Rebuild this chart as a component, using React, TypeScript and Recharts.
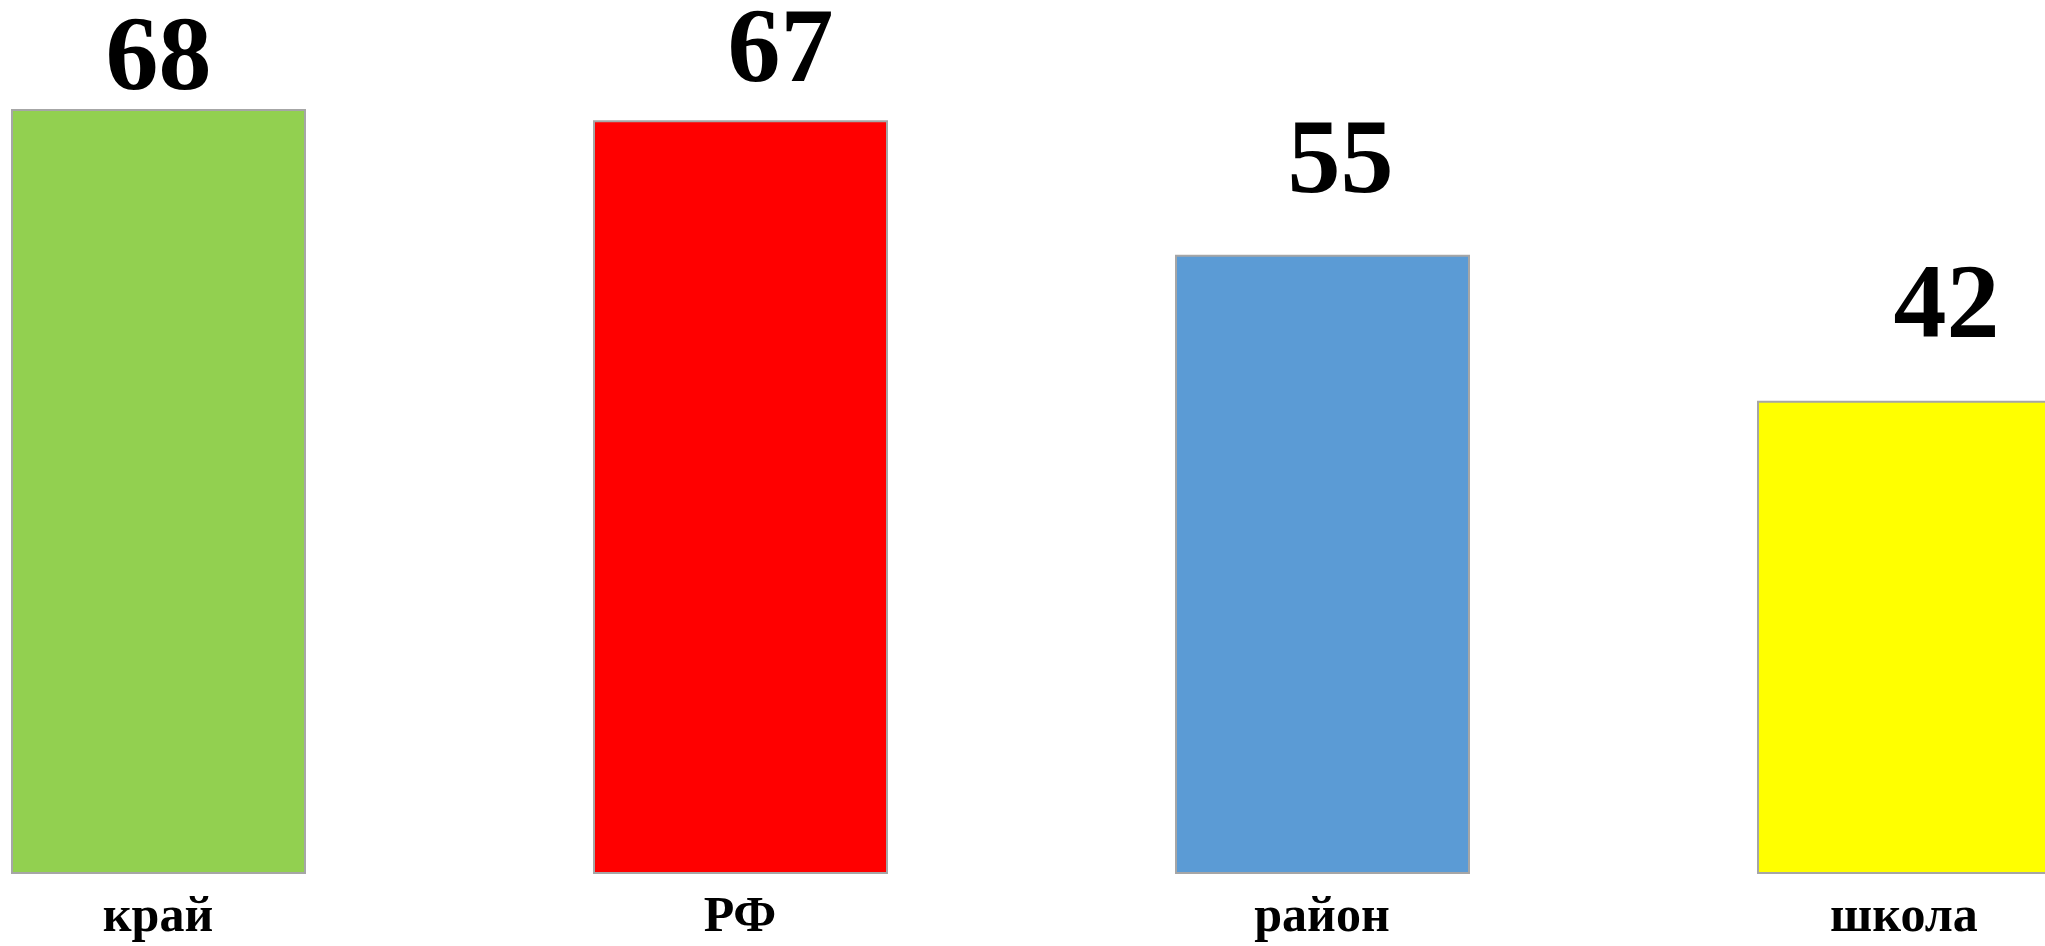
import React from 'react';
import { BarChart, Bar, XAxis, YAxis, Cell, LabelList } from 'recharts';

const categories = ['край', 'РФ', 'район', 'школа'];
const values = [68, 67, 55, 42];
const barColors = ['#92D050', '#FF0000', '#5B9BD5', '#FFFF00'];

// value labels sit a little unevenly above the bars in the original
const labelShiftX = [0, 40, 18, 42];
const labelGap = [21, 40, 64, 65];

const data = categories.map((name, i) => ({ name, value: values[i] }));

const serif = '"Liberation Serif", "Times New Roman", serif';

const ValueLabel = (props: any) => {
  const { x, y, width, value, index } = props;
  return (
    <text
      x={x + width / 2 + labelShiftX[index]}
      y={y - labelGap[index]}
      textAnchor="middle"
      fontFamily={serif}
      fontWeight="bold"
      fontSize={106}
      fill="#000"
    >
      {value}
    </text>
  );
};

export default function App() {
  return (
    <div
      style={{
        position: 'fixed',
        left: 0,
        top: 0,
        width: 2045,
        height: 946,
        overflow: 'hidden',
        background: '#ffffff',
      }}
    >
      <div style={{ position: 'absolute', left: -133, top: 0 }}>
        <BarChart
          width={2328}
          height={946}
          data={data}
          margin={{ top: 110, right: 0, bottom: 0, left: 0 }}
        >
          <XAxis
            dataKey="name"
            height={73}
            axisLine={false}
            tickLine={false}
            tickMargin={16}
            interval={0}
            tick={{ fill: '#000', fontSize: 50, fontWeight: 'bold', fontFamily: serif }}
          />
          <YAxis hide domain={[0, 68]} />
          <Bar
            dataKey="value"
            barSize={293}
            stroke="#a6a6a6"
            strokeWidth={2}
            isAnimationActive={false}
          >
            {data.map((d, i) => (
              <Cell key={d.name} fill={barColors[i]} />
            ))}
            <LabelList dataKey="value" content={ValueLabel} />
          </Bar>
        </BarChart>
      </div>
    </div>
  );
}
